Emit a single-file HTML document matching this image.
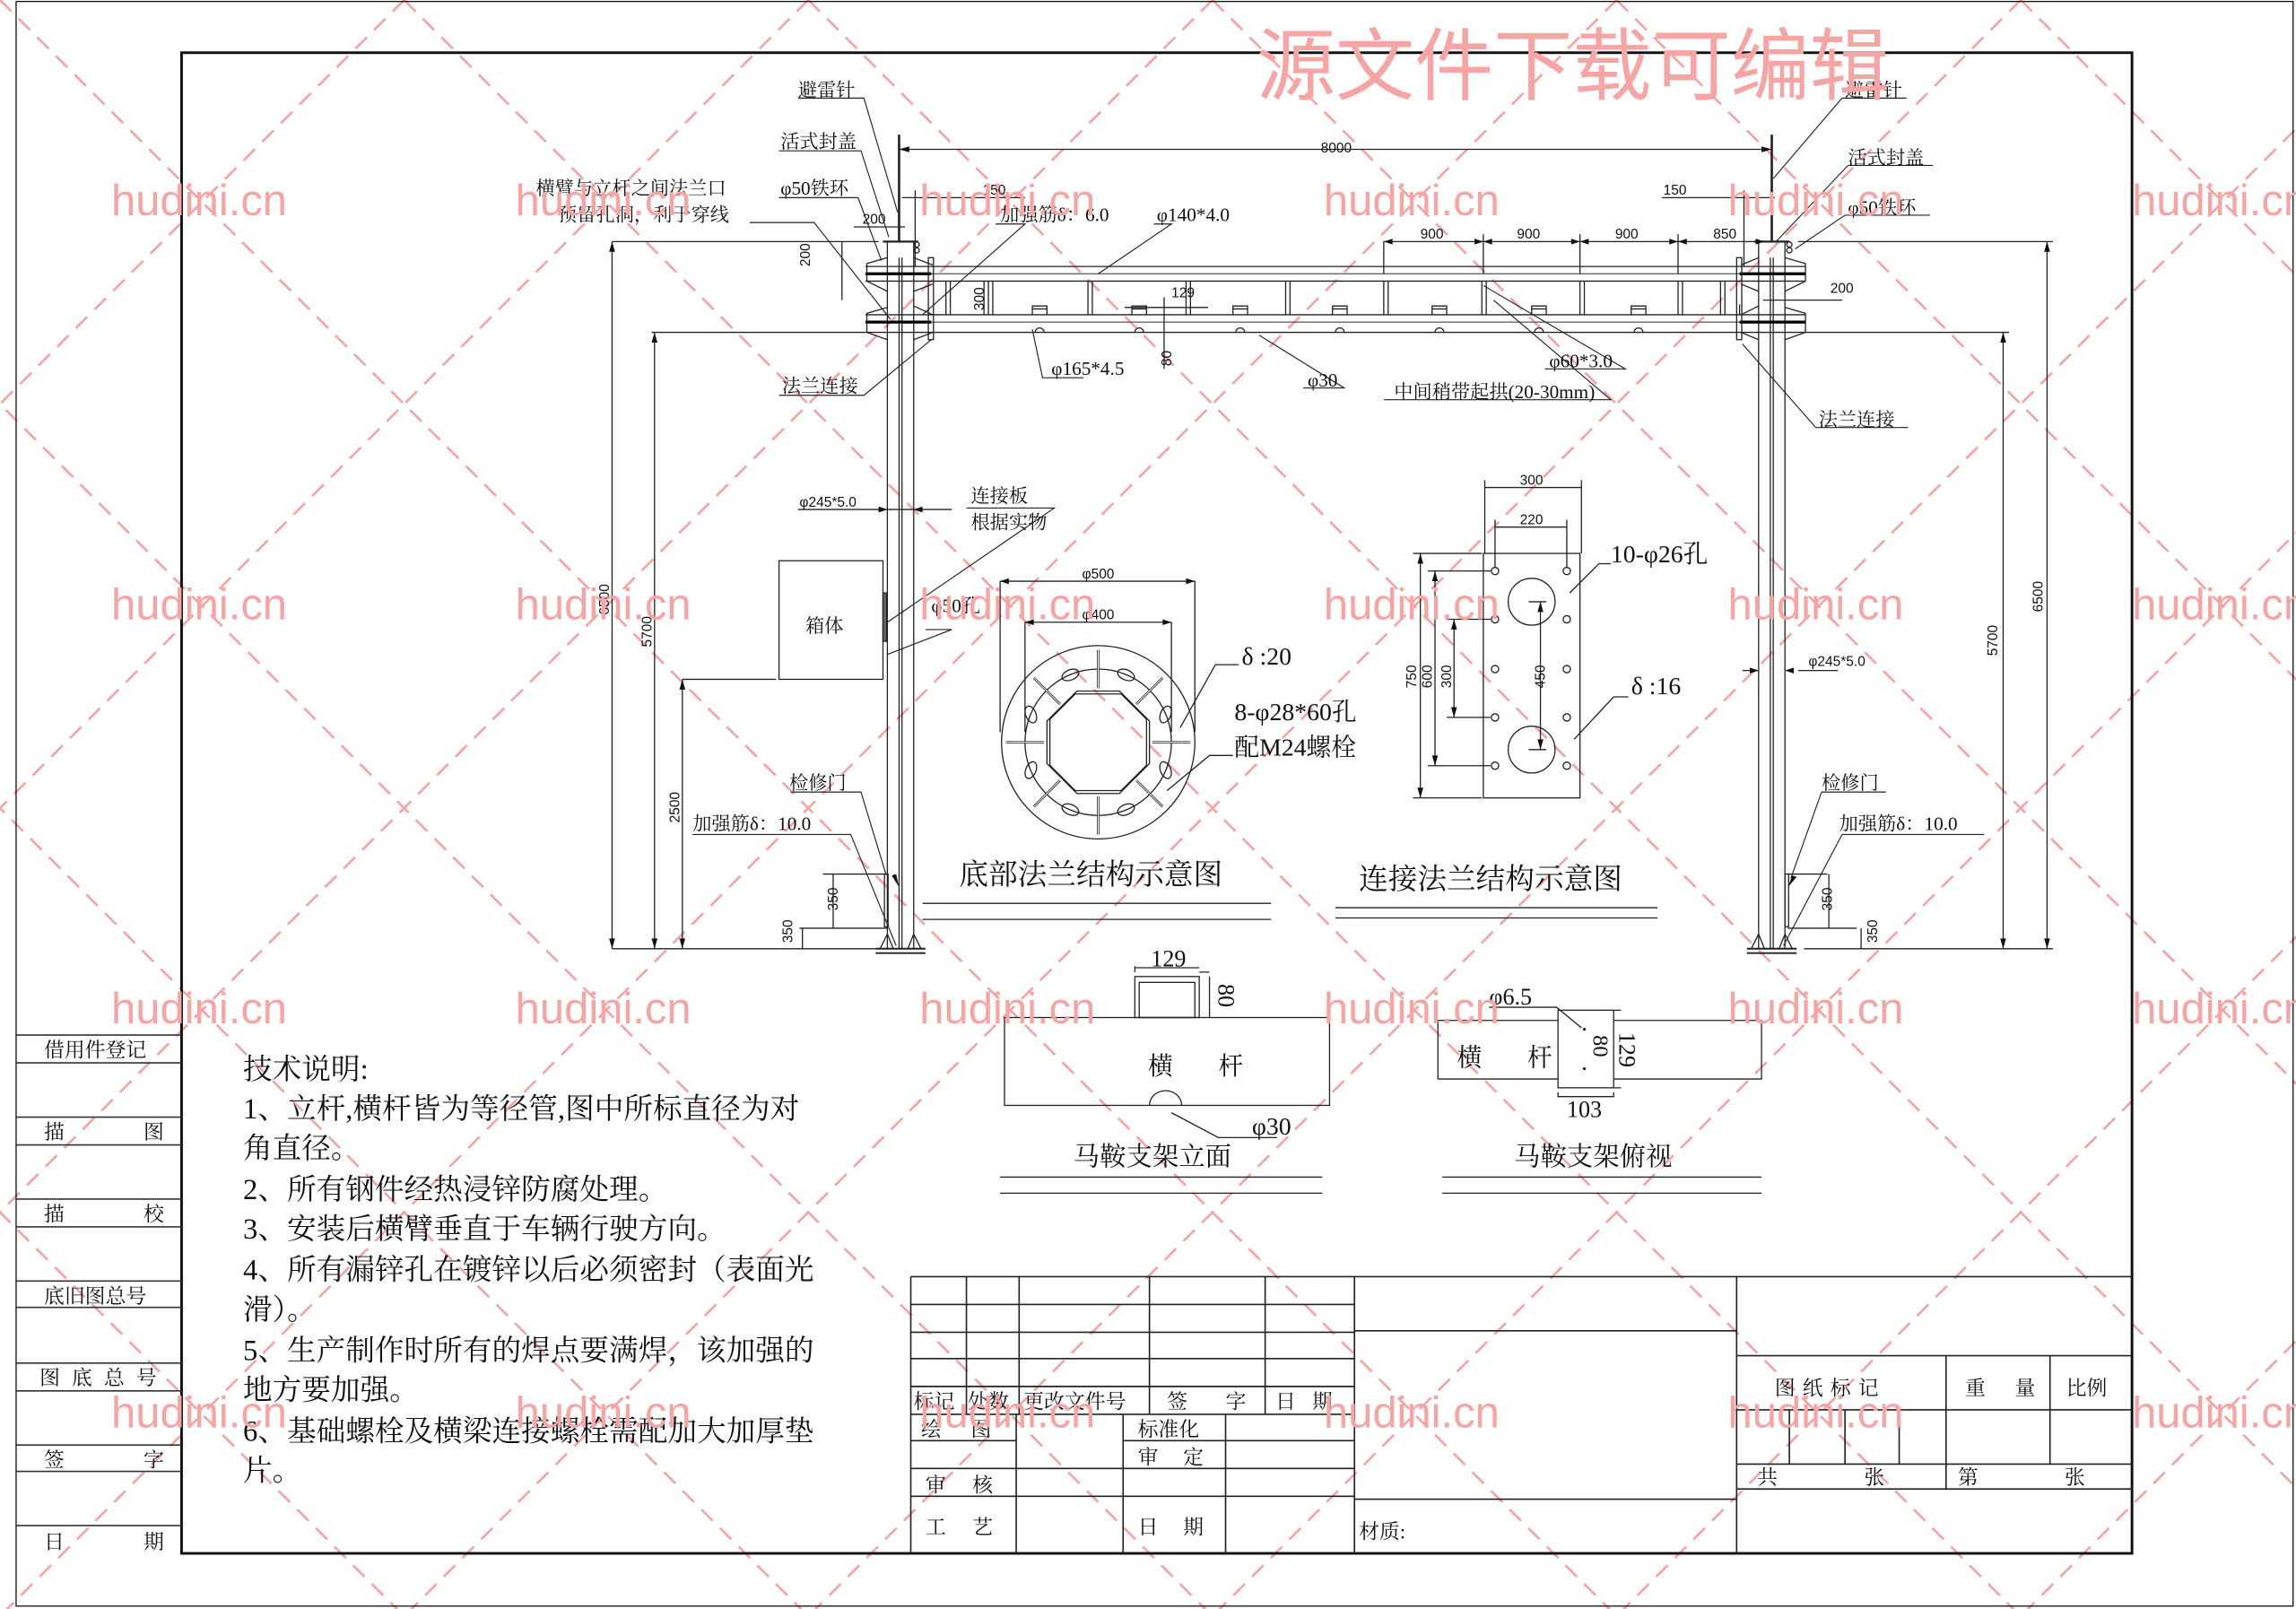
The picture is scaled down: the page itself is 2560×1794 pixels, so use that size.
<!DOCTYPE html>
<html><head><meta charset="utf-8">
<style>
html,body{margin:0;padding:0;background:#fff;width:2560px;height:1794px;overflow:hidden;}
svg{display:block;}
text{font-family:"Liberation Serif","Noto Serif CJK SC",serif;fill:#111;}
text.s,.s text{font-family:"Liberation Sans","Noto Sans CJK SC",sans-serif;}
.wm text,text.wm{font-family:"Liberation Sans","Noto Sans CJK SC",sans-serif;fill:#f7a4a4;}
</style></head>
<body>
<svg xmlns="http://www.w3.org/2000/svg" width="2560" height="1794" viewBox="0 0 1568 1099" preserveAspectRatio="none">
<rect x="0" y="0" width="1568" height="1099" fill="#fff"/>
<g stroke="#f5a3a3" stroke-width="1.6" stroke-dasharray="11 7" fill="none">
<path d="M276 0 L-924 1200 M552 0 L-648 1200 M828 0 L-372 1200 M1104 0 L-96 1200 M1380 0 L180 1200 M1656 0 L456 1200 M1932 0 L732 1200 M2208 0 L1008 1200 M2484 0 L1284 1200 M2760 0 L1560 1200"/>
<path d="M0 0 L1200 1200 M276 0 L1476 1200 M552 0 L1752 1200 M828 0 L2028 1200 M1104 0 L2304 1200 M1380 0 L2580 1200 M-276 0 L924 1200 M-552 0 L648 1200 M-828 0 L372 1200 M-1104 0 L96 1200"/>
</g>

<g fill="none" stroke="#111">
<rect x="11" y="1" width="1555" height="1096" stroke-width="0.8"/>
<rect x="124" y="36" width="1332" height="1025" stroke-width="1.8"/>
</g>
<g stroke="#333" stroke-width="1">
<path d="M11 707H124M11 726H124M11 763H124M11 782H124M11 819H124M11 838H124M11 875H124M11 893H124M11 931H124M11 950H124M11 987H124M11 1005H124M11 1042H124"/>
</g>
<g font-size="14">
<text x="30" y="722">借用件登记</text>
<text x="30" y="778">描</text><text x="98" y="778">图</text>
<text x="30" y="834">描</text><text x="98" y="834">校</text>
<text x="30" y="890">底旧图总号</text>
<text x="27" y="946" letter-spacing="8">图底总号</text>
<text x="30" y="1002">签</text><text x="98" y="1002">字</text>
<text x="30" y="1058">日</text><text x="98" y="1058">期</text>
</g>

<g font-size="20">
<text x="166" y="737">技术说明:</text>
<text x="166" y="764">1、立杆,横杆皆为等径管,图中所标直径为对</text>
<text x="166" y="791">角直径。</text>
<text x="166" y="819">2、所有钢件经热浸锌防腐处理。</text>
<text x="166" y="846">3、安装后横臂垂直于车辆行驶方向。</text>
<text x="166" y="874">4、所有漏锌孔在镀锌以后必须密封（表面光</text>
<text x="166" y="901">滑）。</text>
<text x="166" y="929">5、生产制作时所有的焊点要满焊，该加强的</text>
<text x="166" y="956">地方要加强。</text>
<text x="166" y="984">6、基础螺栓及横梁连接螺栓需配加大加厚垫</text>
<text x="166" y="1011">片。</text>
</g>

<g fill="none" stroke="#222" stroke-width="0.8">
<path d="M606 165V648M624 165V648M614 176V648M616 176V648"/>
<path d="M1201 165V648M1219 165V648M1209 176V648M1211 176V648"/>
<path d="M603 165H627M1198 165H1222" stroke-width="1.4"/>
<path d="M614 92V165M1210 92V165" stroke-width="1.6"/>
<path d="M591 182H1233M591 192H1233M591 215H1233M591 227H1233"/>
<path d="M591 187H1233M591 220H1233" stroke="#555"/>
<path d="M591 187H636M591 220H636M1188 187H1233M1188 220H1233" stroke="#000" stroke-width="2"/>
<rect x="634" y="176" width="3.5" height="56"/>
<rect x="1186" y="176" width="3.5" height="56"/>
<path d="M606 176L592 180V192L606 199M606 210L592 214V227L606 232"/>
<path d="M624 176L637 181M624 199L637 194M624 209L637 215M624 232L637 227"/>
<path d="M1219 176L1233 180V192L1219 199M1219 210L1233 214V227L1219 232"/>
<path d="M1201 176L1189 181M1201 199L1189 194M1201 209L1189 215M1201 232L1189 227"/>
<path d="M675 192V215M678 192V215M743 192V215M746 192V215M810 192V215M813 192V215M878 192V215M881 192V215M945 192V215M948 192V215M1012 192V215M1015 192V215M1079 192V215M1082 192V215M1146 192V215M1149 192V215M646 192V215M649 192V215M1175 192V215M1178 192V215"/>
<path d="M705 215V209H715V215M705 211H715M773 215V209H783V215M773 211H783M842 215V209H852V215M842 211H852M910 215V209H920V215M910 211H920M978 215V209H988V215M978 211H988M1046 215V209H1056V215M1046 211H1056M1114 215V209H1124V215M1114 211H1124"/>
<path d="M707 227A3 3 0 0 1 713 227M775 227A3 3 0 0 1 781 227M844 227A3 3 0 0 1 850 227M912 227A3 3 0 0 1 918 227M980 227A3 3 0 0 1 986 227M1048 227A3 3 0 0 1 1054 227M1116 227A3 3 0 0 1 1122 227"/>
<circle cx="626" cy="167" r="1.8"/><circle cx="626" cy="171" r="1.8"/>
<circle cx="1222" cy="167" r="1.8"/><circle cx="1222" cy="171" r="1.8"/>
<path d="M418 165H600M445 227H591M1228 165H1402M1233 227H1372"/>
<path d="M598 648H632M598 651H632M1193 648H1227M1193 651H1227" stroke-width="1.2"/>
<path d="M601 648L606 638M610 648L606 638M620 648L624 638M629 648L624 638M1196 648L1201 638M1205 648L1201 638M1215 648L1219 638M1224 648L1219 638"/>
<path d="M418 648H598M1232 648H1402"/>
<rect x="604" y="597" width="2.5" height="36"/>
<rect x="1219" y="597" width="2.5" height="36"/>
<path d="M562 597H606M546 634H606M1221 597H1248M1221 634H1268"/>
<rect x="532" y="383" width="71" height="81"/>
<rect x="603" y="405" width="2.5" height="33" fill="#666"/>
<path d="M466 464H530"/>
<path d="M418 165V648M447 227V648M466 464V648M1368 227V648M1398 165V648M569 597V634M548 634V648M1249 597V634M1271 634V648"/>
<path d="M614 102H1210"/>
<path d="M945 165H1205M945 165V187M1013 160V187M1079 160V187M1146 160V187"/>
<path d="M616 135H700M1135 135H1212M625 130V182M1191 130V182"/>
<path d="M583 155H618M575 165V205M1204 205H1258M1188 208V215"/>
<path d="M545 348H650M1228 458H1255M1190 458H1201"/>
<path d="M768 210H825M795 203V252M672 192V215"/>
</g>
<g fill="#111">
<path d="M614 102l7 -2v4zM1210 102l-7 -2v4z"/>
<path d="M418 165l-2 7h4zM418 648l-2 -7h4zM447 227l-2 7h4zM447 648l-2 -7h4zM466 464l-2 7h4zM466 648l-2 -7h4zM1368 227l-2 7h4zM1368 648l-2 -7h4zM1398 165l-2 7h4zM1398 648l-2 -7h4z"/>
<path d="M945 165l6 -2v4zM1013 165l-6 -2v4zM1013 165l6 -2v4zM1079 165l-6 -2v4zM1079 165l6 -2v4zM1146 165l-6 -2v4zM1146 165l6 -2v4zM1205 165l-6 -2v4z"/>
<path d="M606 348l-6 -2v4zM624 348l6 -2v4zM1201 458l-6 -2v4zM1219 458l6 -2v4z"/>
<path d="M614 606l-5 -8 3 -1zM1221 606l3 -8 3 1z"/>
</g>
<g fill="none" stroke="#222" stroke-width="0.7">
<path d="M545 67H590L613 145"/>
<path d="M532 103H588L607 162"/>
<path d="M532 135H586L602 178"/>
<path d="M512 152H556L608 218"/>
<path d="M532 270H590L636 232"/>
<path d="M680 153H700L630 215"/>
<path d="M788 153H800L750 187"/>
<path d="M740 258H712L705 225"/>
<path d="M890 265H918L860 229"/>
<path d="M945 273H1100L1020 205"/>
<path d="M1055 252H1110L1013 195"/>
<path d="M1258 67H1302M1258 67L1211 122"/>
<path d="M1262 113H1320M1262 113L1213 165"/>
<path d="M1260 147H1318M1260 147L1226 170"/>
<path d="M1240 292H1303M1240 292L1190 235"/>
<path d="M660 347H720L606 425"/>
<path d="M632 430H650L606 447"/>
<path d="M540 541H588L605 597"/>
<path d="M473 570H581L612 646"/>
<path d="M1244 541H1288M1244 541L1223 600"/>
<path d="M1258 570H1355M1258 570L1218 646"/>
</g>
<g font-size="13">
<text x="545" y="66">避雷针</text>
<text x="533" y="101">活式封盖</text>
<text x="533" y="133">φ50铁环</text>
<text x="366" y="133">横臂与立杆之间法兰口</text>
<text x="381" y="151">预留孔洞，利于穿线</text>
<text x="534" y="268">法兰连接</text>
<text x="683" y="151">加强筋δ：6.0</text>
<text x="790" y="151">φ140*4.0</text>
<text x="718" y="256">φ165*4.5</text>
<text x="893" y="264">φ30</text>
<text x="952" y="272">中间稍带起拱(20-30mm)</text>
<text x="1058" y="251">φ60*3.0</text>
<text x="1260" y="66">避雷针</text>
<text x="1262" y="112">活式封盖</text>
<text x="1262" y="146">φ50铁环</text>
<text x="1242" y="291">法兰连接</text>
<text x="663" y="343">连接板</text>
<text x="663" y="361">根据实物</text>
<text x="636" y="418">φ50孔</text>
<text x="550" y="432">箱体</text>
<text x="539" y="539">检修门</text>
<text x="473" y="567">加强筋δ：10.0</text>
<text x="1244" y="539">检修门</text>
<text x="1256" y="567">加强筋δ：10.0</text>
</g>
<g font-size="9.5" class="s">
<text x="902" y="104">8000</text>
<text x="671" y="133">150</text>
<text x="1136" y="133">150</text>
<text x="589" y="153">200</text>
<text x="1250" y="200">200</text>
<text x="970" y="163">900</text>
<text x="1036" y="163">900</text>
<text x="1103" y="163">900</text>
<text x="1170" y="163">850</text>
<text x="800" y="203">129</text>
<text x="546" y="346">φ245*5.0</text>
<text x="1235" y="455">φ245*5.0</text>
<text transform="translate(553 182) rotate(-90)">200</text>
<text transform="translate(672 212) rotate(-90)">300</text>
<text transform="translate(800 250) rotate(-90)">80</text>
<text transform="translate(416 420) rotate(-90)">6500</text>
<text transform="translate(445 442) rotate(-90)">5700</text>
<text transform="translate(464 562) rotate(-90)">2500</text>
<text transform="translate(1364 448) rotate(-90)">5700</text>
<text transform="translate(1395 418) rotate(-90)">6500</text>
<text transform="translate(572 622) rotate(-90)">350</text>
<text transform="translate(541 644) rotate(-90)">350</text>
<text transform="translate(1251 622) rotate(-90)">350</text>
<text transform="translate(1282 644) rotate(-90)">350</text>
</g>

<g fill="none" stroke="#222" stroke-width="0.8">
<circle cx="750" cy="507" r="66"/>
<circle cx="750" cy="507" r="50"/>
<polygon points="764.5,472 785,492.5 785,521.5 764.5,542 735.5,542 715,521.5 715,492.5 735.5,472"/>
<polygon points="765.7,474 783,491.3 783,522.7 765.7,540 734.3,540 717,522.7 717,491.3 734.3,474"/>
<path d="M683 397V500M816 397V500M700 425V500M800 425V500"/>
<path d="M683 397H816M700 425H800"/>
<g stroke-width="1.6">
<path d="M750 470V444M750 544V570M713 507H687M787 507H813M724 481L706 463M776 481L794 463M724 533L706 551M776 533L794 551"/>
</g>
<g stroke="#fff" stroke-width="0.6">
<path d="M750 470V444M750 544V570M713 507H687M787 507H813M724 481L706 463M776 481L794 463M724 533L706 551M776 533L794 551"/>
</g>
<ellipse cx="731" cy="461" rx="6" ry="3.5" transform="rotate(-22 731 461)"/>
<ellipse cx="769" cy="461" rx="6" ry="3.5" transform="rotate(22 769 461)"/>
<ellipse cx="796" cy="488" rx="3.5" ry="6" transform="rotate(22 796 488)"/>
<ellipse cx="796" cy="526" rx="3.5" ry="6" transform="rotate(-22 796 526)"/>
<ellipse cx="731" cy="553" rx="6" ry="3.5" transform="rotate(22 731 553)"/>
<ellipse cx="769" cy="553" rx="6" ry="3.5" transform="rotate(-22 769 553)"/>
<ellipse cx="704" cy="488" rx="3.5" ry="6" transform="rotate(-22 704 488)"/>
<ellipse cx="704" cy="526" rx="3.5" ry="6" transform="rotate(22 704 526)"/>
<path d="M846 454H830L806 497M842 516H826L797 540"/>
<path d="M630 617H868M630 628H868"/>
</g>
<g fill="#111"><path d="M683 397l6 -2v4zM816 397l-6 -2v4zM700 425l6 -2v4zM800 425l-6 -2v4z"/></g>
<g font-size="9.5" class="s"><text x="739" y="395">φ500</text><text x="739" y="423">φ400</text></g>
<text x="848" y="454" font-size="17">δ :20</text>
<text x="843" y="492" font-size="17">8-φ28*60孔</text>
<text x="843" y="516" font-size="17">配M24螺栓</text>
<text x="655" y="604" font-size="20">底部法兰结构示意图</text>

<g fill="none" stroke="#222" stroke-width="0.8">
<rect x="1013" y="378" width="66" height="167"/>
<ellipse cx="1046" cy="411" rx="16" ry="16"/>
<ellipse cx="1046" cy="512" rx="16" ry="16"/>
<circle cx="1021" cy="390" r="2.5"/><circle cx="1021" cy="423" r="2.5"/><circle cx="1021" cy="457" r="2.5"/><circle cx="1021" cy="490" r="2.5"/><circle cx="1021" cy="523" r="2.5"/>
<circle cx="1070" cy="390" r="2.5"/><circle cx="1070" cy="423" r="2.5"/><circle cx="1070" cy="457" r="2.5"/><circle cx="1070" cy="490" r="2.5"/><circle cx="1070" cy="523" r="2.5"/>
<path d="M965 378H1012M965 545H1012M975 390H1018M988 423H1018M988 490H1018M975 523H1018"/>
<path d="M970 378V545M980 390V523M993 423V490M1052 411V512M1044 411H1056M1044 512H1056"/>
<path d="M1014 333H1080M1014 328V378M1080 328V378M1021 360H1070M1021 355V388M1070 355V388"/>
<path d="M1100 385H1092L1072 405M1112 476H1102L1075 505"/>
<path d="M912 620H1132M912 627H1132"/>
</g>
<g fill="#111"><path d="M970 378l-2 7h4zM970 545l-2 -7h4zM980 390l-2 7h4zM980 523l-2 -7h4zM993 423l-2 7h4zM993 490l-2 -7h4zM1052 411l-2 7h4zM1052 512l-2 -7h4z"/></g>
<g font-size="9.5" class="s">
<text x="1038" y="331">300</text><text x="1038" y="358">220</text>
<text transform="translate(967 470) rotate(-90)">750</text>
<text transform="translate(978 470) rotate(-90)">600</text>
<text transform="translate(991 470) rotate(-90)">300</text>
<text transform="translate(1055 470) rotate(-90)">450</text>
</g>
<text x="1100" y="384" font-size="17">10-φ26孔</text>
<text x="1114" y="474" font-size="17">δ :16</text>
<text x="928" y="607" font-size="20">连接法兰结构示意图</text>

<g fill="none" stroke="#222" stroke-width="0.8">
<rect x="686" y="695" width="222" height="60"/>
<rect x="775" y="667" width="44" height="28"/>
<rect x="778" y="671" width="38" height="24"/>
<path d="M785 755A11 10 0 0 1 807 755"/>
<path d="M775 664V660M819 664H826M775 661H819M826 667V695"/>
<path d="M800 760L832 777H872"/>
<path d="M683 804H903M683 815H903"/>
</g>
<text x="786" y="660" font-size="16">129</text>
<text transform="translate(832 672) rotate(90)" font-size="16">80</text>
<text x="784" y="734" font-size="17">横</text><text x="832" y="734" font-size="17">杆</text>
<text x="855" y="775" font-size="17">φ30</text>
<text x="733" y="796" font-size="18">马鞍支架立面</text>

<g fill="none" stroke="#222" stroke-width="0.8">
<path d="M982 697H1064M982 737H1064M982 697V737M1102 697H1203V737H1102"/>
<rect x="1064" y="690" width="38" height="53"/>
<path d="M1017 688H1063L1080 702"/>
<path d="M1064 746V749H1102V746M1102 690H1107M1102 743H1107"/>
<path d="M985 804H1203M985 815H1203"/>
</g>
<circle cx="1082" cy="703" r="1" fill="#222"/><circle cx="1082" cy="730" r="1" fill="#222"/>
<text x="1017" y="686" font-size="16">φ6.5</text>
<text transform="translate(1088 707) rotate(90)" font-size="15">80</text>
<text transform="translate(1106 705) rotate(90)" font-size="16">129</text>
<text x="995" y="728" font-size="17">横</text><text x="1043" y="728" font-size="17">杆</text>
<text x="1070" y="763" font-size="16">103</text>
<text x="1034" y="796" font-size="18">马鞍支架俯视</text>

<g fill="none" stroke="#222" stroke-width="1">
<path d="M622 872H1456M622 872V1061M925 872V1061M1186 872V1061"/>
<path d="M622 891H925M622 910H925M622 928H925M622 947H925M622 966H925"/>
<path d="M660 872V966M696 872V966M785 872V966M864 872V966"/>
<path d="M622 984H694M767 984H925M622 1003H925M622 1022H925"/>
<path d="M694 966V1061M767 966V1061M837 966V1061"/>
<path d="M925 909H1186M925 1024H1186"/>
<path d="M1186 926H1456M1186 963H1456M1186 1000H1456M1186 1017H1456"/>
<path d="M1329 926V1017M1400 926V1000M1222 963V1000M1260 963V1000M1297 963V1000"/>
</g>
<g font-size="14">
<text x="624" y="962">标记</text><text x="661" y="962">处数</text><text x="699" y="962">更改文件号</text>
<text x="797" y="962">签</text><text x="837" y="962">字</text><text x="871" y="962">日</text><text x="896" y="962">期</text>
<text x="629" y="981">绘</text><text x="663" y="981">图</text>
<text x="777" y="981">标准化</text>
<text x="777" y="1000">审</text><text x="808" y="1000">定</text>
<text x="632" y="1019">审</text><text x="664" y="1019">核</text>
<text x="632" y="1048">工</text><text x="664" y="1048">艺</text>
<text x="777" y="1048">日</text><text x="808" y="1048">期</text>
<text x="928" y="1051">材质:</text>
<text x="1212" y="953" letter-spacing="5">图纸标记</text>
<text x="1342" y="953">重</text><text x="1376" y="953">量</text>
<text x="1411" y="953">比例</text>
<text x="1200" y="1014">共</text><text x="1273" y="1014">张</text>
<text x="1337" y="1014">第</text><text x="1410" y="1014">张</text>
</g>

<g class="wm" font-size="30" text-anchor="middle">
<text x="136" y="147">hudini.cn</text><text x="412" y="147">hudini.cn</text><text x="688" y="147">hudini.cn</text><text x="964" y="147">hudini.cn</text><text x="1240" y="147">hudini.cn</text><text x="1516" y="147">hudini.cn</text>
<text x="136" y="423">hudini.cn</text><text x="412" y="423">hudini.cn</text><text x="688" y="423">hudini.cn</text><text x="964" y="423">hudini.cn</text><text x="1240" y="423">hudini.cn</text><text x="1516" y="423">hudini.cn</text>
<text x="136" y="699">hudini.cn</text><text x="412" y="699">hudini.cn</text><text x="688" y="699">hudini.cn</text><text x="964" y="699">hudini.cn</text><text x="1240" y="699">hudini.cn</text><text x="1516" y="699">hudini.cn</text>
<text x="136" y="975">hudini.cn</text><text x="412" y="975">hudini.cn</text><text x="688" y="975">hudini.cn</text><text x="964" y="975">hudini.cn</text><text x="1240" y="975">hudini.cn</text><text x="1516" y="975">hudini.cn</text>
</g>
<text class="wm" x="858" y="64" font-size="54">源文件下载可编辑</text>
</svg>
</body></html>
